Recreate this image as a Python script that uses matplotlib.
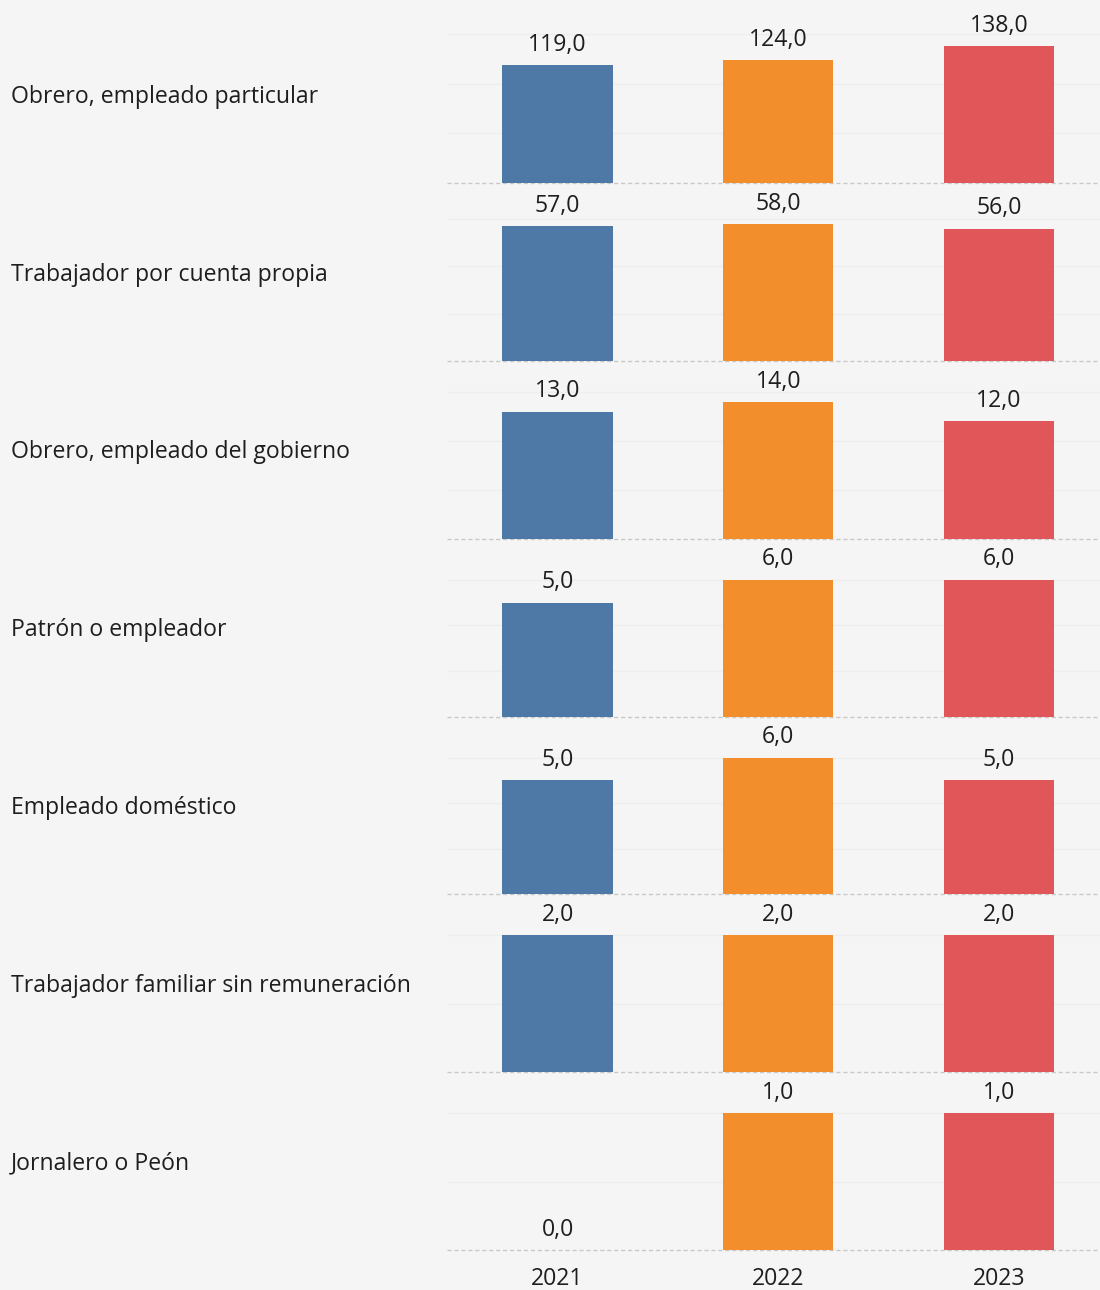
import numpy as np
import matplotlib.pyplot as plt
from matplotlib.transforms import blended_transform_factory

plt.rcParams['font.family'] = ['Open Sans', 'DejaVu Sans']

# data
categories = ['Obrero, empleado particular', 'Trabajador por cuenta propia',
              'Obrero, empleado del gobierno', 'Patrón o empleador',
              'Empleado doméstico', 'Trabajador familiar sin remuneración',
              'Jornalero o Peón']
years = ['2021', '2022', '2023']
v2021 = [119, 57, 13, 5, 5, 2, 0]
v2022 = [124, 58, 14, 6, 6, 2, 1]
v2023 = [138, 56, 12, 6, 5, 2, 1]

grid_step = [50, 20, 5, 2, 2, 1, 0.5]
colors = ['#4e79a7', '#f28e2b', '#e15759']
bg = '#f5f5f5'
fs = 16.6

fig, axes = plt.subplots(len(categories), 1, figsize=(11, 12.9), dpi=100)
fig.patch.set_facecolor(bg)
fig.subplots_adjust(left=0.406, right=1.0, top=0.996, bottom=0.031, hspace=0)

x = np.arange(len(years))
for i, ax in enumerate(axes):
    vals = [v2021[i], v2022[i], v2023[i]]
    ax.patch.set_visible(False)
    ax.bar(x, vals, width=0.5, color=colors, zorder=3)
    top = max(vals) * 1.3
    ax.set_ylim(0, top)
    ax.set_xlim(-0.503, 2.458)
    for t in np.arange(grid_step[i], top, grid_step[i]):
        ax.axhline(t, color='#eeeeee', lw=1, zorder=1)
    ax.axhline(0, color='#c8c8c8', lw=1, ls=(0, (3, 2)), zorder=2, clip_on=False)
    for xi, v in zip(x, vals):
        ax.annotate(f'{v:.1f}'.replace('.', ','), (xi, v), xytext=(0, 6),
                    textcoords='offset points', ha='center', va='bottom',
                    fontsize=fs, color='#1e1e1e')
    for s in ax.spines.values():
        s.set_visible(False)
    ax.set_yticks([])
    ax.tick_params(length=0)
    if i < len(categories) - 1:
        ax.set_xticks([])
    else:
        ax.set_xticks(x)
        ax.set_xticklabels(years, fontsize=fs, color='#1e1e1e')
        ax.tick_params(axis='x', pad=12)
    tr = blended_transform_factory(fig.transFigure, ax.transAxes)
    ax.text(11 / 1100, 0.485, categories[i], transform=tr, ha='left',
            va='center', fontsize=fs, color='#1e1e1e')

fig.savefig('out.png', dpi=100, facecolor=bg)
